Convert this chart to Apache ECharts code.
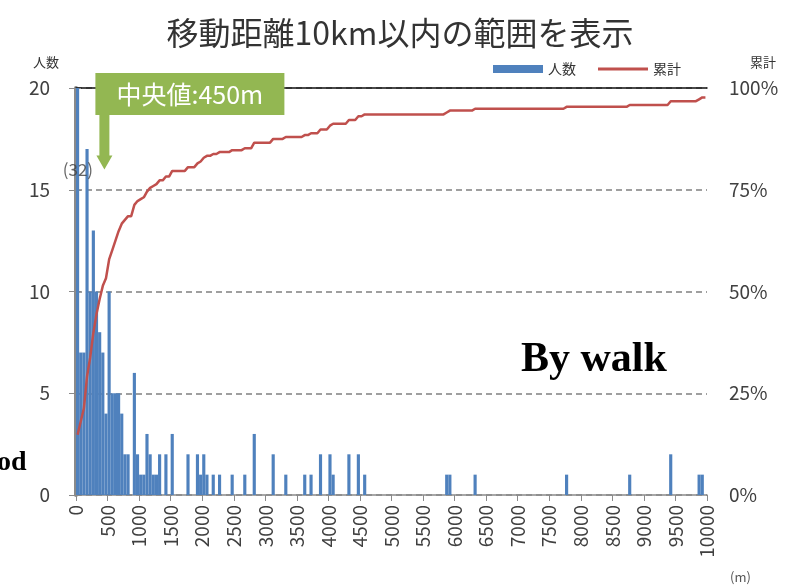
<!DOCTYPE html>
<html>
<head>
<meta charset="utf-8">
<title>移動距離10km以内の範囲を表示</title>
<script src="https://cdn.jsdelivr.net/npm/echarts@6/dist/echarts.min.js"></script>
<style>
  html, body { margin: 0; padding: 0; background: #ffffff; }
  #chart { width: 800px; height: 587px; }
</style>
</head>
<body>
<div id="chart"></div>
<script>
// ---- data ---------------------------------------------------------------
const chartTitle = '移動距離10km以内の範囲を表示';
const seriesNames = ['人数', '累計'];

// distance axis (m)
const distanceMin = 0;
const distanceMax = 10000;
const distanceStep = 500;

// count axis and cumulative-share axis
const countMax = 20;
const countStep = 5;
const shareMax = 1;
const shareStep = 0.25;

// width of one histogram bin (m)
const binSize = 50;

// 人数 per 50 m bin from 0 to 10,000 m (each row is 1,000 m)
const peopleCounts = [
  32, 7, 7, 17, 10, 13, 10, 8, 7, 4, 10, 5, 5, 5, 4, 2, 2, 0, 6, 2,
  1, 1, 3, 2, 1, 1, 2, 0, 2, 0, 3, 0, 0, 0, 0, 2, 0, 0, 2, 1,
  2, 1, 0, 1, 0, 1, 0, 0, 0, 1, 0, 0, 0, 1, 0, 0, 3, 0, 0, 0,
  0, 0, 2, 0, 0, 0, 1, 0, 0, 0, 0, 0, 1, 0, 1, 0, 0, 2, 0, 0,
  2, 1, 0, 0, 0, 0, 2, 0, 0, 2, 0, 1, 0, 0, 0, 0, 0, 0, 0, 0,
  0, 0, 0, 0, 0, 0, 0, 0, 0, 0, 0, 0, 0, 0, 0, 0, 0, 1, 1, 0,
  0, 0, 0, 0, 0, 0, 1, 0, 0, 0, 0, 0, 0, 0, 0, 0, 0, 0, 0, 0,
  0, 0, 0, 0, 0, 0, 0, 0, 0, 0, 0, 0, 0, 0, 0, 1, 0, 0, 0, 0,
  0, 0, 0, 0, 0, 0, 0, 0, 0, 0, 0, 0, 0, 0, 0, 1, 0, 0, 0, 0,
  0, 0, 0, 0, 0, 0, 0, 0, 2, 0, 0, 0, 0, 0, 0, 0, 0, 1, 1, 0
];

// everyone surveyed, including trips beyond 10 km (denominator of 累計)
const totalRespondents = 216;

// median trip distance (m)
const medianDistance = 450;

// ---- chart --------------------------------------------------------------
const FONT = '"Noto Sans CJK JP", "Noto Sans", sans-serif';
const SERIF_BOLD = 'bold {size}px "Liberation Serif", "DejaVu Serif", serif';
const TEXT = '#404040';
const AXIS_GREY = '#8a8a8a';
const BAR_BLUE = '#4f81bd';
const LINE_RED = '#c0504d';
const NOTE_GREEN = '#93b752';

const binCentre = i => i * binSize + binSize / 2;
const barData = peopleCounts.map((n, i) => [binCentre(i), n]);
let runningTotal = 0;
const cumulativeData = peopleCounts.map((n, i) => {
  runningTotal += n;
  return [binCentre(i), runningTotal / totalRespondents];
});

const chart = echarts.init(document.getElementById('chart'), null, { renderer: 'canvas' });

// free-standing texts: axis captions, unit and the mode labels
function staticTexts() {
  return [
    {
      type: 'text', x: 46, y: 62,
      style: { text: seriesNames[0], font: '13px ' + FONT, fill: '#333333', align: 'center', verticalAlign: 'middle' }
    },
    {
      type: 'text', x: 763, y: 62,
      style: { text: seriesNames[1], font: '13px ' + FONT, fill: '#333333', align: 'center', verticalAlign: 'middle' }
    },
    {
      type: 'text', x: 730, y: 571,
      style: { text: '(m)', font: '13px ' + FONT, fill: '#555555' }
    },
    {
      type: 'text', x: 521, y: 339,
      style: { text: 'By walk', font: SERIF_BOLD.replace('{size}', 42), fill: '#000000' },
      z: 10
    },
    {
      type: 'text', x: -3, y: 449,
      style: { text: 'od', font: SERIF_BOLD.replace('{size}', 28), fill: '#000000' },
      z: 10
    }
  ];
}

chart.setOption({
  animation: false,
  backgroundColor: '#ffffff',
  title: {
    text: chartTitle,
    left: 'center',
    top: 12,
    textStyle: { fontFamily: FONT, fontSize: 32, fontWeight: 'normal', color: '#333333' }
  },
  legend: {
    left: 488,
    top: 57,
    itemWidth: 50,
    itemHeight: 8,
    itemGap: 22,
    textStyle: { fontFamily: FONT, fontSize: 14, color: '#333333' },
    data: [
      { name: seriesNames[0], icon: 'rect' },
      { name: seriesNames[1], icon: 'path://M0,0 L50,0 L50,3 L0,3 Z', itemStyle: { color: LINE_RED } }
    ]
  },
  grid: { left: 76, right: 93, top: 88, bottom: 92 },
  xAxis: [
    {
      type: 'value',
      min: distanceMin,
      max: distanceMax,
      interval: distanceStep,
      axisLine: { show: true, onZero: false, lineStyle: { color: AXIS_GREY, width: 1.5 } },
      axisTick: { show: true, length: 6, lineStyle: { color: AXIS_GREY } },
      axisLabel: { rotate: 90, margin: 10, fontFamily: FONT, fontSize: 19, color: TEXT, formatter: v => String(v) },
      splitLine: { show: false }
    },
    {
      type: 'value',
      position: 'top',
      min: distanceMin,
      max: distanceMax,
      axisLine: { show: true, onZero: false, lineStyle: { color: '#111111', width: 1.5 } },
      axisTick: { show: false },
      axisLabel: { show: false },
      splitLine: { show: false }
    }
  ],
  yAxis: [
    {
      type: 'value',
      min: 0,
      max: countMax,
      interval: countStep,
      axisLine: { show: true, lineStyle: { color: AXIS_GREY, width: 1.5 } },
      axisTick: { show: true, length: 7, lineStyle: { color: AXIS_GREY } },
      axisLabel: { margin: 26, fontFamily: FONT, fontSize: 19, color: TEXT },
      splitLine: { show: true, lineStyle: { color: '#808080', width: 1.5, type: [6, 4] } }
    },
    {
      type: 'value',
      min: 0,
      max: shareMax,
      interval: shareStep,
      axisLine: { show: true, lineStyle: { color: AXIS_GREY, width: 4 } },
      axisTick: { show: true, length: 5, lineStyle: { color: AXIS_GREY } },
      axisLabel: {
        margin: 22,
        fontFamily: FONT,
        fontSize: 19,
        color: TEXT,
        formatter: v => Math.round(v * 100) + '%'
      },
      splitLine: { show: false }
    }
  ],
  series: [
    {
      name: seriesNames[0],
      type: 'bar',
      xAxisIndex: 0,
      yAxisIndex: 0,
      data: barData,
      barCategoryGap: '0%',
      barWidth: '100%',
      clip: true,
      itemStyle: { color: BAR_BLUE },
      z: 2
    },
    {
      name: seriesNames[1],
      type: 'line',
      xAxisIndex: 0,
      yAxisIndex: 1,
      data: cumulativeData,
      symbol: 'none',
      smooth: false,
      lineStyle: { color: LINE_RED, width: 2.5 },
      itemStyle: { color: LINE_RED },
      z: 4
    },
    {
      // value note for the first bin, whose bar runs past the top of the axis
      name: 'firstBinNote',
      type: 'scatter',
      xAxisIndex: 0,
      yAxisIndex: 0,
      data: [[binSize * 0.6, 16]],
      symbolSize: 0,
      silent: true,
      label: {
        show: true,
        position: 'inside',
        formatter: () => '(' + peopleCounts[0] + ')',
        fontFamily: FONT,
        fontSize: 17,
        color: TEXT
      },
      z: 5
    }
  ],
  graphic: staticTexts()
});

// median call-out: green box with an arrow pointing down at the median distance
const tip = chart.convertToPixel({ xAxisIndex: 0, yAxisIndex: 0 }, [medianDistance, 16]);
const tx = tip[0];
const ty = tip[1];
const boxTop = 73;
const boxBottom = 115;
const boxLeft = tx - 9;
const boxWidth = 189;

chart.setOption({
  graphic: staticTexts().concat([
    {
      type: 'rect',
      shape: { x: boxLeft, y: boxTop, width: boxWidth, height: boxBottom - boxTop },
      style: { fill: NOTE_GREEN },
      z: 20
    },
    {
      type: 'polygon',
      shape: {
        points: [
          [tx - 5, boxBottom - 1], [tx + 5, boxBottom - 1],
          [tx + 5, ty - 14], [tx + 8, ty - 14],
          [tx, ty],
          [tx - 8, ty - 14], [tx - 5, ty - 14]
        ]
      },
      style: { fill: NOTE_GREEN },
      z: 20
    },
    {
      type: 'text',
      x: boxLeft + boxWidth / 2,
      y: (boxTop + boxBottom) / 2,
      style: {
        text: '中央値:' + medianDistance + 'm',
        font: '25px ' + FONT,
        fill: '#ffffff',
        align: 'center',
        verticalAlign: 'middle'
      },
      z: 21
    }
  ])
}, { replaceMerge: ['graphic'] });
</script>
</body>
</html>
